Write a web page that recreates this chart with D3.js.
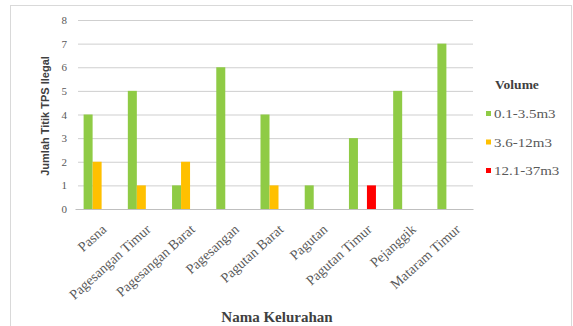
<!DOCTYPE html>
<html>
<head>
<meta charset="utf-8">
<script src="https://cdn.jsdelivr.net/npm/d3@7"></script>
<style>
  body { margin: 0; background: #fff; }
  svg { display: block; }
</style>
</head>
<body>
<div id="chart"></div>
<script>
// kelurahan names (x categories)
var kelurahan = ["Pasna", "Pagesangan Timur", "Pagesangan Barat", "Pagesangan", "Pagutan Barat",
    "Pagutan", "Pagutan Timur", "Pejanggik", "Mataram Timur"];
// legend / series names
var volumeNames = ["0.1-3.5m3", "3.6-12m3", "12.1-37m3"];
var volumeColors = ["#8fcb45", "#ffc000", "#ff0000"];
// counts per series
var vol1 = [4, 5, 1, 6, 4, 1, 3, 5, 7];
var vol2 = [2, 1, 2, 0, 1, 0, 0, 0, 0];
var vol3 = [0, 0, 0, 0, 0, 0, 1, 0, 0];
var yTicks = [0, 1, 2, 3, 4, 5, 6, 7, 8];

var seriesValues = [vol1, vol2, vol3];

var W = 573, H = 326;
var margin = { top: 20, left: 75, right: 100, bottom: 117 };
var width = W - margin.left - margin.right;
var height = H - margin.top - margin.bottom;

var serif = "'Liberation Serif', 'Times New Roman', serif";

var svg = d3.select("#chart").append("svg")
    .attr("width", W)
    .attr("height", H);

// chart border
svg.append("rect")
    .attr("x", 10.5).attr("y", 5.5)
    .attr("width", W - 12).attr("height", H - 4)
    .attr("fill", "none")
    .attr("stroke", "#d9d9d9");

var g = svg.append("g")
    .attr("transform", "translate(" + margin.left + "," + margin.top + ")");

var x = d3.scaleBand()
    .domain(kelurahan)
    .range([0, width]);

var y = d3.scaleLinear()
    .domain([0, 8])
    .range([height, 0]);

var barW = 9;
var inner = d3.scaleBand()
    .domain(d3.range(volumeNames.length))
    .range([x.bandwidth() / 2 - barW * 1.5, x.bandwidth() / 2 + barW * 1.5]);

// gridlines + y ticks
var yaxis = g.append("g")
    .attr("class", "y axis")
    .call(d3.axisLeft(y).tickValues(yTicks).tickSize(-width).tickPadding(8).tickFormat(d3.format("d")));
yaxis.select("path").remove();
yaxis.selectAll("line")
    .attr("stroke", "#cfcfcf")
    .attr("x1", 3);
yaxis.selectAll("text")
    .attr("font-family", serif)
    .attr("font-size", "11px")
    .attr("fill", "#595959");

// bars
for (var s = 0; s < seriesValues.length; s++) {
    g.append("g")
        .selectAll("rect")
        .data(seriesValues[s].map(function (v, i) { return { name: kelurahan[i], value: v }; }))
        .enter()
        .append("rect")
        .attr("x", function (d) { return x(d.name) + inner(s); })
        .attr("y", function (d) { return y(d.value); })
        .attr("width", inner.bandwidth())
        .attr("height", function (d) { return height - y(d.value); })
        .attr("fill", volumeColors[s]);
}

// x axis
var xaxis = g.append("g")
    .attr("class", "x axis")
    .attr("transform", "translate(0," + height + ")")
    .call(d3.axisBottom(x).tickSize(0));
xaxis.select("path").attr("stroke", "#bfbfbf");
xaxis.selectAll("text")
    .attr("font-family", serif)
    .attr("font-size", "14px")
    .attr("fill", "#595959")
    .attr("text-anchor", "end")
    .attr("x", 0)
    .attr("y", 0)
    .attr("dy", "0.35em")
    .attr("transform", "translate(7,18) rotate(-42)");

// axis titles
svg.append("text")
    .attr("transform", "translate(49," + 116 + ") rotate(-90)")
    .attr("text-anchor", "middle")
    .attr("font-family", "'Liberation Sans', Arial, sans-serif")
    .attr("font-size", "11px")
    .attr("font-weight", "bold")
    .attr("fill", "#404040")
    .text("Jumlah Titik TPS Ilegal");

svg.append("text")
    .attr("x", 277)
    .attr("y", 322)
    .attr("text-anchor", "middle")
    .attr("font-family", serif)
    .attr("font-size", "15px")
    .attr("font-weight", "bold")
    .attr("fill", "#404040")
    .text("Nama Kelurahan");

// legend
var legend = svg.append("g")
    .attr("transform", "translate(486,0)");
legend.append("text")
    .attr("x", 31).attr("y", 89)
    .attr("text-anchor", "middle")
    .attr("font-family", serif)
    .attr("font-size", "13.5px")
    .attr("font-weight", "bold")
    .attr("fill", "#404040")
    .text("Volume");
var items = legend.selectAll("g.item")
    .data(volumeNames)
    .enter()
    .append("g")
    .attr("class", "item")
    .attr("transform", function (d, i) { return "translate(0," + (114 + i * 28.5) + ")"; });
items.append("rect")
    .attr("x", 0).attr("y", -3)
    .attr("width", 5).attr("height", 5)
    .attr("fill", function (d, i) { return volumeColors[i]; });
items.append("text")
    .attr("transform", "translate(8,0) scale(1.2,1)")
    .attr("dy", "0.35em")
    .attr("font-family", serif)
    .attr("font-size", "12.5px")
    .attr("fill", "#595959")
    .text(function (d) { return d; });
</script>
</body>
</html>
